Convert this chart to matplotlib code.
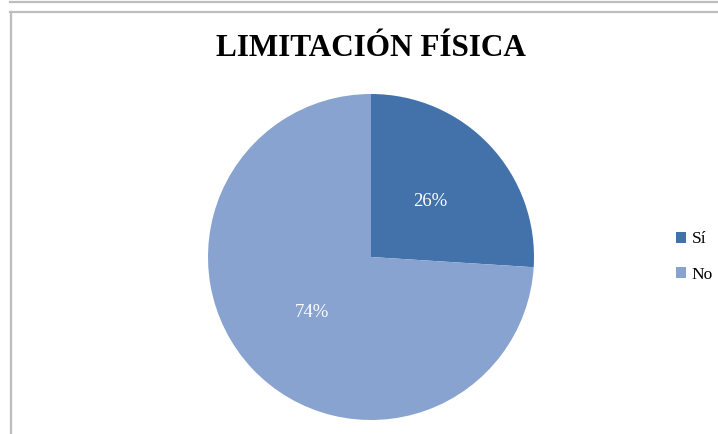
import matplotlib
matplotlib.use("Agg")
import matplotlib.pyplot as plt
from matplotlib.lines import Line2D
from matplotlib.patches import Patch

# Data
categories = ["Sí", "No"]
values = [26, 74]
colors = ["#4272A9", "#88A3CF"]

fig = plt.figure(figsize=(7.18, 4.34), dpi=100)
W, H = 718, 434

# frame lines (gray borders of the chart area)
border = "#BDBDBD"
fig.add_artist(Line2D([10 / W, 1], [1 - 1.5 / H, 1 - 1.5 / H], color=border, lw=1.6,
                      transform=fig.transFigure))
fig.add_artist(Line2D([10 / W, 1], [1 - 11.5 / H, 1 - 11.5 / H], color=border, lw=1.6,
                      transform=fig.transFigure))
fig.add_artist(Line2D([10.5 / W, 10.5 / W], [0, 1 - 11.5 / H], color=border, lw=1.6,
                      transform=fig.transFigure))

# pie axes
cx, cy, r = 371, 257, 163
ax = fig.add_axes([(cx - r) / W, (H - cy - r) / H, 2 * r / W, 2 * r / H])
wedges, texts, autotexts = ax.pie(
    values, colors=colors, startangle=90, counterclock=False,
    autopct=lambda p: f"{p:.0f}%", pctdistance=0.5,
    wedgeprops=dict(linewidth=0),
    textprops=dict(color="white", fontsize=13.5, family="Liberation Serif"),
)
ax.set_aspect("equal")
ax.set_xlim(-1, 1)
ax.set_ylim(-1, 1)

fig.text(371 / W, 1 - 49 / H, "LIMITACIÓN FÍSICA", ha="center", va="center",
         fontsize=22.5, fontweight="bold", family="Liberation Serif", color="#000000")

handles = [Patch(facecolor=c, edgecolor="none") for c in colors]
fig.legend(handles, categories, loc="center left", bbox_to_anchor=(676 / W, 1 - 257 / H),
           frameon=False, prop=dict(family="Liberation Serif", size=12.5),
           borderpad=0, borderaxespad=0,
           handlelength=0.6, handleheight=0.6, handletextpad=0.3, labelspacing=1.1)

fig.savefig("out.png", dpi=100)
